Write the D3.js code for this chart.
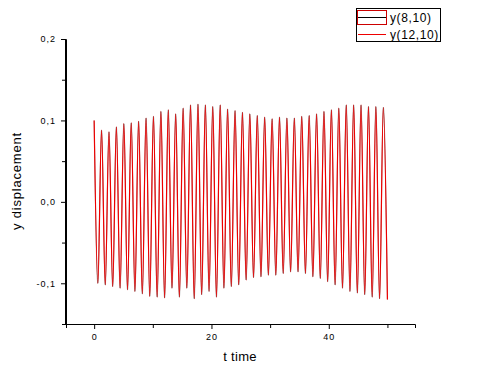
<!DOCTYPE html>
<html lang="en">
<head>
    <meta charset="UTF-8">
    <script src="https://d3js.org/d3.v7.min.js"></script>
    <title>y displacement</title>
    <style>
        body { margin: 0; background: #fff; }
        svg { display: block; font-family: Arial, "Liberation Sans", sans-serif; }
    </style>
</head>
<body>
    <svg width="480" height="382"></svg>
    <script>
        // peaks and troughs (time, y)
        let peakT = [0, 1.26, 2.53, 3.79, 5.06, 6.32, 7.58, 8.85, 10.11, 11.38,
            12.64, 13.90, 15.17, 16.43, 17.70, 18.96, 20.22, 21.49, 22.75, 24.02,
            25.28, 26.54, 27.81, 29.07, 30.34, 31.60, 32.86, 34.13, 35.39, 36.66,
            37.92, 39.18, 40.45, 41.71, 42.98, 44.24, 45.50, 46.77, 48.03, 49.30];
        let peakY = [0.100, 0.088, 0.086, 0.092, 0.096, 0.097, 0.099, 0.103, 0.105, 0.111,
            0.113, 0.108, 0.115, 0.119, 0.120, 0.119, 0.117, 0.119, 0.114, 0.112,
            0.110, 0.108, 0.106, 0.104, 0.102, 0.104, 0.103, 0.103, 0.105, 0.106,
            0.108, 0.111, 0.113, 0.115, 0.119, 0.119, 0.119, 0.117, 0.117, 0.116];
        let troughT = [0.63, 1.89, 3.16, 4.42, 5.69, 6.95, 8.21, 9.48, 10.74, 12.01,
            13.27, 14.53, 15.80, 17.06, 18.33, 19.59, 20.85, 22.12, 23.38, 24.65,
            25.91, 27.17, 28.44, 29.70, 30.97, 32.23, 33.49, 34.76, 36.02, 37.29,
            38.55, 39.81, 41.08, 42.34, 43.61, 44.87, 46.13, 47.40, 48.66, 50.00];
        let troughY = [-0.100, -0.102, -0.104, -0.106, -0.108, -0.110, -0.113, -0.116, -0.117, -0.118,
            -0.106, -0.117, -0.106, -0.119, -0.114, -0.110, -0.117, -0.106, -0.104, -0.102,
            -0.096, -0.093, -0.092, -0.090, -0.090, -0.088, -0.086, -0.086, -0.088, -0.092,
            -0.094, -0.098, -0.102, -0.106, -0.110, -0.112, -0.114, -0.117, -0.119, -0.120];

        let seriesNames = ['y(8,10)', 'y(12,10)'];
        let seriesColors = ['#000000', '#ee0000'];
        let seriesWidths = [0.4, 1.2];
        let xTicks = [0, 20, 40];
        let xMinor = [10, 30, 50];
        let yTicks = [-0.1, 0.0, 0.1, 0.2];
        let yMinor = [-0.15, -0.05, 0.05, 0.15];

        // merge extrema into one time series
        let points = [];
        peakT.forEach((t, i) => {
            points.push({ t: t, y: peakY[i] });
            points.push({ t: troughT[i], y: troughY[i] });
        });

        let svg = d3.select('svg');
        let plotL = 66, plotR = 415, plotT = 39, plotB = 324;

        let xScale = d3.scaleLinear().domain([-4.8, 54.7]).range([plotL, plotR]);
        let yScale = d3.scaleLinear().domain([-0.15, 0.2]).range([plotB, plotT]);

        let fmt = (d) => d3.format('.1f')(d).replace('.', ',').replace('−', '-');

        // x axis
        let gx = svg.append('g').attr('transform', `translate(0,${plotB})`);
        gx.call(d3.axisBottom(xScale).tickValues(xTicks).tickSize(5).tickPadding(5).tickFormat(d3.format('d')));
        gx.append('g').call(d3.axisBottom(xScale).tickValues(xMinor).tickSize(4).tickFormat(''));

        // y axis
        let gy = svg.append('g').attr('transform', `translate(${plotL},0)`);
        gy.call(d3.axisLeft(yScale).tickValues(yTicks).tickSize(5).tickPadding(5).tickFormat(fmt));
        gy.append('g').call(d3.axisLeft(yScale).tickValues(yMinor).tickSize(4).tickFormat(''));

        svg.selectAll('.domain').attr('stroke', '#000').attr('stroke-width', 1);
        svg.selectAll('.tick line').attr('stroke', '#000');
        svg.selectAll('.tick text').attr('font-size', 9).attr('fill', '#000')
            .attr('font-family', 'Arial, "Liberation Sans", sans-serif').style('letter-spacing', '1px');
        gx.select('.domain').attr('d', `M${plotL},0.5H${plotR}`);
        gy.select('.domain').attr('d', `M-0.5,${plotT}V${plotB}`);

        // lines
        let line = d3.line()
            .x((d) => xScale(d.t))
            .y((d) => yScale(d.y))
            .curve(d3.curveMonotoneX);

        seriesNames.forEach((name, i) => {
            svg.append('path')
                .datum(points)
                .attr('fill', 'none')
                .attr('stroke', seriesColors[i])
                .attr('stroke-width', seriesWidths[i])
                .attr('d', line);
        });

        // axis titles
        svg.append('text')
            .attr('x', 240).attr('y', 361)
            .attr('text-anchor', 'middle')
            .attr('font-size', 13)
            .style('letter-spacing', '0.3px')
            .text('t time');
        svg.append('text')
            .attr('transform', 'translate(21,181) rotate(-90)')
            .attr('text-anchor', 'middle')
            .attr('font-size', 13)
            .style('letter-spacing', '0.8px')
            .text('y displacement');

        // legend
        let lg = svg.append('g');
        lg.append('rect').attr('x', 356.5).attr('y', 8.5).attr('width', 84).attr('height', 33)
            .attr('fill', '#fff').attr('stroke', '#000');
        lg.append('rect').attr('x', 357.5).attr('y', 10.5).attr('width', 29).attr('height', 14)
            .attr('fill', 'none').attr('stroke', '#cc0000');
        seriesNames.forEach((name, i) => {
            let yy = 17 + i * 17;
            lg.append('line').attr('x1', 358).attr('x2', 386).attr('y1', yy + 0.5).attr('y2', yy + 0.5)
                .attr('stroke', seriesColors[i]);
            lg.append('text').attr('x', 390).attr('y', yy + 5)
                .attr('font-size', 12).style('letter-spacing', '0.6px')
                .text(name);
        });
    </script>
</body>
</html>
